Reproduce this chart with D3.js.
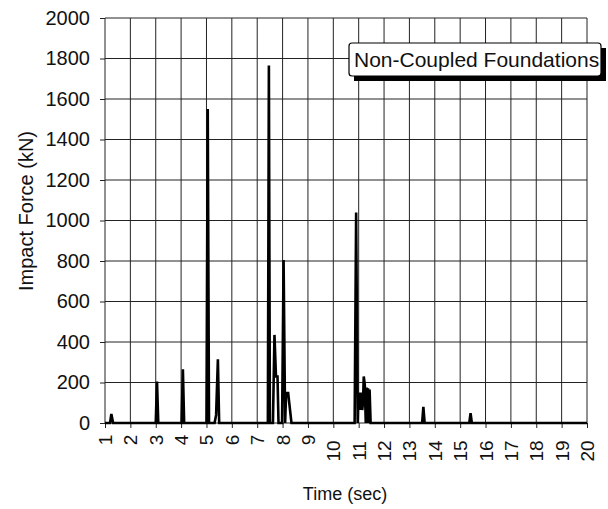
<!DOCTYPE html>
<html>
<head>
<meta charset="utf-8">
<script src="https://cdn.jsdelivr.net/npm/d3@7"></script>
<style>
  body { margin: 0; background: #fff; }
  svg { font-family: "Liberation Sans", Arial, sans-serif; }
</style>
</head>
<body>
<svg id="chart" width="608" height="509"></svg>
<script>
// impact force time history
var timeSec = [1.0, 1.2, 1.25, 1.32,
  3.0, 3.05, 3.1,
  4.02, 4.07, 4.12,
  5.0, 5.05, 5.1,
  5.32, 5.38, 5.45, 5.5,
  7.42, 7.46, 7.5, 7.62, 7.68, 7.74, 7.8, 7.84,
  7.98, 8.04, 8.1, 8.14, 8.22, 8.35,
  10.84, 10.9, 10.96, 10.99, 11.02, 11.05, 11.08, 11.11, 11.14, 11.17, 11.2, 11.24,
  11.28, 11.31, 11.34, 11.37, 11.4, 11.43, 11.47,
  13.5, 13.55, 13.6,
  15.36, 15.41, 15.46,
  20.0];
var forceKN = [0, 0, 45, 0,
  0, 205, 0,
  0, 265, 0,
  0, 1550, 0,
  0, 40, 315, 0,
  0, 1765, 0, 0, 435, 230, 230, 0,
  0, 805, 0, 148, 148, 0,
  0, 1040, 0, 150, 64, 150, 64, 150, 64, 100, 230, 190,
  0, 175, 0, 172, 0, 165, 0,
  0, 80, 0,
  0, 48, 0,
  0];

var xTicks = d3.range(1, 21);
var yTicks = d3.range(0, 2001, 200);
var legendLabel = "Non-Coupled Foundations";

var svg = d3.select("#chart"),
  MARGINS = { top: 18, right: 21, bottom: 86, left: 105 },
  WIDTH = 608,
  HEIGHT = 509,
  xRange = d3.scaleLinear().domain([1, 20]).range([MARGINS.left, WIDTH - MARGINS.right]),
  yRange = d3.scaleLinear().domain([0, 2000]).range([HEIGHT - MARGINS.bottom, MARGINS.top]);

var gridColor = "#222";

// grid
svg.append("g").selectAll("line.v").data(xTicks).join("line")
  .attr("x1", d => xRange(d)).attr("x2", d => xRange(d))
  .attr("y1", yRange(2000)).attr("y2", yRange(0))
  .attr("stroke", gridColor).attr("stroke-width", 1);
svg.append("g").selectAll("line.h").data(yTicks).join("line")
  .attr("x1", xRange(1)).attr("x2", xRange(20))
  .attr("y1", d => yRange(d)).attr("y2", d => yRange(d))
  .attr("stroke", gridColor).attr("stroke-width", 1);

// axes
var yAxis = d3.axisLeft(yRange).tickValues(yTicks).tickFormat(d3.format("d"))
  .tickSize(5).tickPadding(10);
var gy = svg.append("g")
  .attr("transform", "translate(" + MARGINS.left + ",0)")
  .call(yAxis);
gy.select(".domain").remove();
gy.selectAll("line").attr("stroke", gridColor);
gy.selectAll("text").attr("font-size", 20).attr("fill", "#111");

var xAxis = d3.axisBottom(xRange).tickValues(xTicks).tickSize(5);
var gx = svg.append("g")
  .attr("transform", "translate(0," + (HEIGHT - MARGINS.bottom) + ")")
  .call(xAxis);
gx.select(".domain").remove();
gx.selectAll("line").attr("stroke", gridColor);
gx.selectAll("text")
  .attr("font-size", 19).attr("fill", "#111")
  .attr("text-anchor", "middle")
  .attr("dy", null)
  .attr("y", 0)
  .attr("transform", function(d) {
    var cy = 6 + 11 * String(d).length;
    return "translate(0," + cy + ") rotate(-90)";
  })
  .attr("dominant-baseline", "central");

// data line
var line = d3.line()
  .x((d, i) => xRange(timeSec[i]))
  .y(d => yRange(d));
svg.append("path")
  .datum(forceKN)
  .attr("d", line)
  .attr("fill", "none")
  .attr("stroke", "#000")
  .attr("stroke-width", 2.6);

// axis titles
svg.append("text")
  .attr("x", 345).attr("y", 500)
  .attr("text-anchor", "middle")
  .attr("font-size", 18).attr("fill", "#111")
  .text("Time (sec)");
svg.append("text")
  .attr("transform", "translate(33,211) rotate(-90)")
  .attr("text-anchor", "middle")
  .attr("font-size", 20).attr("fill", "#111")
  .text("Impact Force (kN)");

// legend
var lg = svg.append("g");
lg.append("rect")
  .attr("x", 354).attr("y", 48).attr("width", 252).attr("height", 33)
  .attr("fill", "#000");
lg.append("rect")
  .attr("x", 349).attr("y", 43).attr("width", 252).attr("height", 33)
  .attr("rx", 3)
  .attr("fill", "#fff").attr("stroke", "#000").attr("stroke-width", 1.2);
lg.append("text")
  .attr("x", 354).attr("y", 67)
  .attr("font-size", 21).attr("fill", "#111")
  .text(legendLabel);
</script>
</body>
</html>
